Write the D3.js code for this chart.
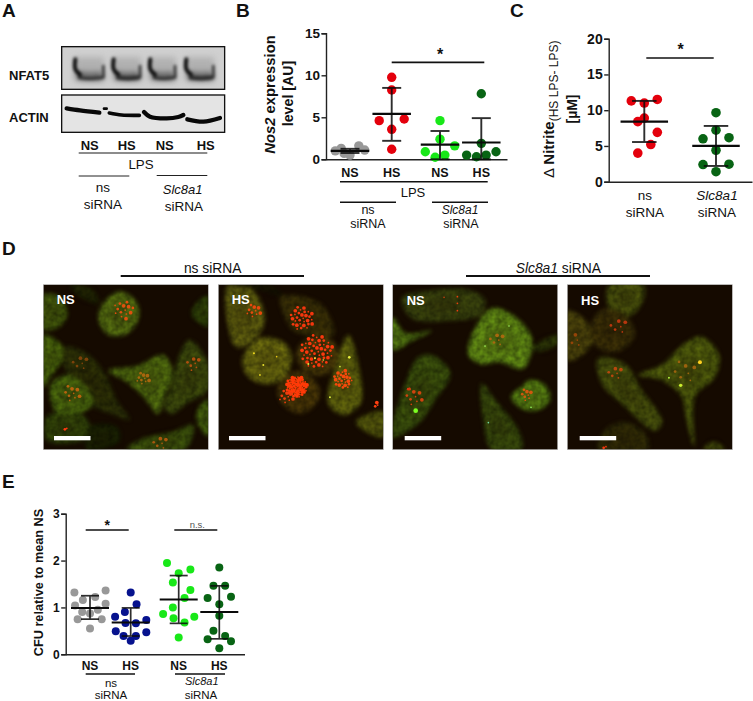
<!DOCTYPE html>
<html><head><meta charset="utf-8">
<script src="https://cdn.jsdelivr.net/npm/d3@7/dist/d3.min.js"></script>
<style>
html,body{margin:0;padding:0;background:#fff}
svg{display:block}
text{font-family:"Liberation Sans",Arial,sans-serif;fill:#111}
</style></head><body>
<svg id="fig" width="753" height="701" xmlns="http://www.w3.org/2000/svg"></svg>
<script>
// ---------- DATA ----------
const conditionLabels = ["NS","HS","NS","HS"];
const siRnaLabels = ["ns","Slc8a1"];

// Panel B: Nos2 expression
const nosTicks = [0,5,10,15];
const nosNsNs = [1.3,1.6,1.1,1.0,0.5,0.7];
const nosNsHs = [9.76,8.25,4.6,4.8,3.57,1.2];
const nosSlcNs = [4.6,2.4,1.6,0.9,0.5,0.25];
const nosSlcHs = [7.8,1.9,0.9,0.5,0.5,0.3];
const nosLanes = [[-0.6,0.6,1,-1,0,-0.4],[0,0,-0.85,0.85,0,0],[0,0,1,-1,0.33,-0.33],[0,0,1,-1,0.33,-0.33]];
const nosMean = [1.0,5.4,1.75,2.0];
const nosLow = [0.75,2.2,0,0];
const nosHigh = [1.25,8.5,3.37,4.9];

// Panel C: nitrite
const nitTicks = [0,5,10,15,20];
const nitNs = [11.3,11.5,11.0,8.9,8.4,6.9,5.2,4.0];
const nitSlc = [9.65,7.2,6.0,6.15,4.4,2.4,2.45,1.4];
const nitLanes = [[-1,1,0,0,-0.5,1,0.5,-0.5],[0,0,-1,1,0,-1,1,0]];
const nitMean = [8.4,5.0];
const nitLow = [5.55,2.2];
const nitHigh = [11.3,7.8];

// Panel E: CFU
const cfuTicks = [0,1,2,3];
const cfuNsNs = [1.32,1.36,1.22,1.04,1.08,0.95,0.9,0.87,0.75,0.75,0.55,1.16];
const cfuNsHs = [1.32,1.07,0.8,0.9,0.73,0.67,0.66,0.49,0.47,0.39,0.39,0.29];
const cfuSlcNs = [1.95,1.81,1.73,1.53,1.37,1.2,1.0,0.86,0.8,0.77,0.68,0.36];
const cfuSlcHs = [1.85,1.46,1.46,1.2,1.23,1.07,0.82,0.5,0.39,0.32,0.28,0.13];
const cfuLanes = [
 [-1.2,1.2,0.4,-1.15,1.2,0.6,-0.6,0,-0.95,0.9,0,-0.55],
 [0,0.45,-1.2,-0.45,1.2,-0.4,0.4,-1.15,1.2,-0.55,0.4,0],
 [-0.9,0.9,0,-0.45,0.9,0.45,-0.45,-1.2,1.2,-0.4,0.45,0],
 [0,-0.45,0.45,-0.9,0.9,0,0,-0.45,0.45,-0.9,0.9,0]];
const cfuMean = [0.99,0.68,1.17,0.9];
const cfuLow = [0.75,0.39,0.66,0.33];
const cfuHigh = [1.25,0.99,1.68,1.46];

const colGrey="#989898", colRed="#e4000c", colBright="#18e818", colDark="#086414", colBlue="#06128e";

// ---------- MICROSCOPY CONTENT (zoom-image units) ----------
const micNS1 = [
 {p:[[40,165],[90,170],[112,225],[85,262],[40,268]],c:"#4f6c0e"},
 {p:[[120,134],[190,150],[205,190],[150,170]],c:"#262e05"},
 {p:[[265,155],[315,180],[328,225],[300,275],[245,288],[210,255],[210,205]],c:"#648414"},
 {p:[[535,168],[495,195],[485,225],[510,250],[535,260]],c:"#36500a"},
 {p:[[40,285],[90,310],[105,345],[70,400],[40,440]],c:"#567a0e"},
 {p:[[105,320],[170,340],[225,400],[260,480],[300,540],[240,520],[190,500],[130,430],[100,370]],c:"#333a08"},
 {p:[[235,392],[320,378],[400,345],[428,400],[400,480],[385,522],[340,470],[290,425]],c:"#5f8212"},
 {p:[[478,300],[535,372],[535,450],[470,490],[425,522],[402,500],[425,440],[440,370]],c:"#46580e"},
 {p:[[110,405],[165,435],[190,490],[140,525],[85,525],[60,470],[65,430]],c:"#567c10"},
 {p:[[50,530],[100,520],[170,535],[175,590],[110,610],[50,600]],c:"#3a520b"},
 {p:[[180,560],[260,560],[270,600],[220,628],[170,628]],c:"#1d2804"},
 {p:[[290,628],[340,595],[430,575],[490,555],[465,628]],c:"#46620e"},
 {p:[[535,478],[505,505],[500,540],[535,590]],c:"#517610"}
];
const micNS1Dots = [[280,210,30,14,"#e0500e"],[125,460,26,9,"#b8620e"],[340,415,20,10,"#a8660e"],[490,370,22,7,"#b04e0e"],[108,565,5,2,"#ff3a10"],[150,370,24,6,"#7c420a"],[390,610,22,6,"#a8580e"]];

const micHS1 = [
 {p:[[595,134],[660,140],[705,230],[682,290],[620,322],[595,260]],c:"#6f7012"},
 {p:[[752,170],[870,190],[912,285],[840,285],[790,272],[760,220]],c:"#443a08"},
 {p:[[710,292],[770,315],[785,365],[755,420],[705,432],[655,410],[637,360],[665,310]],c:"#7d7e12"},
 {p:[[865,283],[915,310],[930,355],[895,400],[850,405],[805,370],[805,320]],c:"#54430a"},
 {p:[[805,392],[855,420],[870,470],[820,520],[770,505],[742,460],[760,415]],c:"#544009"},
 {p:[[955,285],[990,400],[992,490],[940,525],[895,490],[920,370]],c:"#727810"},
 {p:[[978,545],[1060,515],[1060,590],[1020,582]],c:"#656c0f"},
 {p:[[595,134],[720,134],[760,170],[690,150]],c:"#1a1802"}
];
const micHS1Dots = [[672,212,22,10,"#e8480c"],[815,235,36,30,"#f4360e"],[860,335,50,50,"#fa380e"],[800,440,32,70,"#ff3a08"],[770,470,22,10,"#f03c0e"],[940,418,28,26,"#f44a0c"],[1040,495,8,3,"#ff4010"]];
const micHS1Bright = [[672,340,3,"#f0d820"],[700,375,3,"#e8e030"],[690,405,3,"#d8c820"],[740,350,2.5,"#e8c818"],[855,355,3,"#f0e040"],[835,372,3,"#e8e840"],[880,360,2.5,"#f0e040"],[958,352,4,"#e8f040"],[930,380,2.5,"#d8e840"],[900,472,3,"#e0f040"]];

const micNS2 = [
 {p:[[50,175],[150,150],[250,150],[300,180],[285,225],[180,243],[80,235]],c:"#445210"},
 {p:[[23,232],[62,280],[140,272],[85,300],[23,330]],c:"#649416"},
 {p:[[322,205],[382,225],[440,295],[415,385],[340,365],[290,372],[250,345],[272,260]],c:"#72a618"},
 {p:[[440,325],[520,285],[520,310],[462,335]],c:"#36450a"},
 {p:[[435,420],[480,435],[495,480],[460,510],[415,508],[378,470],[410,440]],c:"#689c16"},
 {p:[[140,345],[196,400],[150,480],[100,550],[23,592],[23,555],[65,420],[100,352]],c:"#44600e"},
 {p:[[290,430],[330,480],[400,570],[410,628],[320,628],[295,540]],c:"#425a0e"}
];
const micNS2Dots = [[215,170,3,1,"#e8400e"],[215,190,3,1,"#e8400e"],[215,212,3,1,"#e8400e"],[175,172,3,1,"#b8400e"],[425,465,18,8,"#d0580e"],[85,470,28,9,"#d0440e"],[72,445,4,2,"#d8360e"],[335,300,22,6,"#aa680f"]];
const micNS2Bright = [[92,512,7,"#7cff22"],[372,258,2.5,"#a0f060"],[300,318,2.5,"#a0f060"],[438,502,2.5,"#90f060"],[310,548,2.5,"#70d8a0"]];

const micHS2 = [
 {p:[[675,134],[775,134],[775,180],[740,225],[690,225],[665,180]],c:"#55610e"},
 {p:[[547,212],[600,240],[625,300],[585,350],[547,362]],c:"#5a530e"},
 {p:[[650,210],[720,225],[750,285],[700,335],[640,325],[615,270]],c:"#443809"},
 {p:[[640,355],[720,372],[770,450],[832,545],[810,572],[720,500],[650,430]],c:"#53600e"},
 {p:[[950,290],[1002,345],[990,410],[930,470],[928,620],[905,540],[890,470],[830,420],[760,405],[830,375],[900,310]],c:"#5d6e0e"},
 {p:[[660,570],[720,545],[780,580],[790,628],[640,628]],c:"#383408"},
 {p:[[955,628],[985,605],[1020,628]],c:"#54600e"}
];
const micHS2Dots = [[700,260,26,6,"#b8360e"],[690,400,22,6,"#b8480e"],[660,620,6,2,"#f8360e"],[570,300,20,4,"#964408"],[900,400,40,8,"#9c620e"]];
const micHS2Bright = [[945,367,6,"#ffd020"],[887,436,5,"#c8f030"],[852,413,3,"#b0f040"]];

// ---------- DRAW ----------
const svg = d3.select("#fig");
const defs = svg.append("defs");
[["b1",1.8],["b2",4],["b3",9],["bdot",2],["bspot",1.4],["bdark",14]].forEach(([id,s])=>{
  defs.append("filter").attr("id",id).attr("x","-30%").attr("y","-30%").attr("width","160%").attr("height","160%")
   .attr("color-interpolation-filters","sRGB")
   .append("feGaussianBlur").attr("stdDeviation",s);
});
// soft cell edge plus a mottled texture from turbulence
const cellF=defs.append("filter").attr("id","cellTex").attr("x","-20%").attr("y","-20%").attr("width","140%").attr("height","140%").attr("color-interpolation-filters","sRGB");
cellF.append("feGaussianBlur").attr("in","SourceGraphic").attr("stdDeviation",6).attr("result","soft");
cellF.append("feTurbulence").attr("type","fractalNoise").attr("baseFrequency",0.06).attr("numOctaves",2).attr("seed",4).attr("result","n");
cellF.append("feColorMatrix").attr("in","n").attr("type","matrix").attr("values","0.7 0 0 0 0.3  0.7 0 0 0 0.3  0.7 0 0 0 0.3  0 0 0 0 1").attr("result","g");
cellF.append("feComposite").attr("in","soft").attr("in2","g").attr("operator","arithmetic").attr("k1",0.95).attr("k2",0.2);

function label(g,x,y,txt,o={}){
  const t=g.append("text").attr("x",x).attr("y",y).text(txt)
    .attr("text-anchor",o.anchor||"middle").attr("font-size",o.size||13)
    .attr("font-weight",o.bold?"bold":"normal").attr("font-style",o.italic?"italic":"normal");
  if(o.fill) t.style("fill",o.fill);
  return t;
}
function rule(g,x1,x2,y,w=1.3,c="#111"){
  g.append("line").attr("x1",x1).attr("x2",x2).attr("y1",y).attr("y2",y).attr("stroke",c).attr("stroke-width",w);
}
[["A",2,17],["B",236,17],["C",510,17],["D",2,255],["E",2,488]].forEach(([t,x,y])=>label(svg,x,y,t,{anchor:"start",size:19,bold:true}));

// ----- Panel A (blots)
const blotG = svg.append("g").attr("transform","scale(0.3333)");
const blotLine = d3.line().curve(d3.curveCatmullRom);
blotG.append("rect").attr("x",185).attr("y",140).attr("width",489).attr("height",128).attr("fill","#d0d0d0");
blotG.append("rect").attr("x",185).attr("y",285).attr("width",489).attr("height",112).attr("fill","#e4e4e4");
const nfatLanes=[[220,315],[335,425],[445,530],[553,645]];
const smearG=blotG.append("g").attr("filter","url(#b3)");
const bandG=blotG.append("g").attr("filter","url(#b2)");
nfatLanes.forEach(([a,b],i)=>{
  smearG.append("rect").attr("x",a+4).attr("y",172).attr("width",b-a-6).attr("height",70).attr("fill","#b0b0b0");
  smearG.append("path").attr("d",blotLine([[a+10,226],[(a+b)/2,230],[b-6,228]])).attr("fill","none").attr("stroke","#565656").attr("stroke-width",22);
  bandG.append("path").attr("d",blotLine([[a+6,178],[a+6,208],[a+20,224]])).attr("fill","none").attr("stroke","#0c0c0c").attr("stroke-width",12).attr("stroke-linecap","round");
  bandG.append("path").attr("d",blotLine([[a+14,232],[(a+b)/2,235],[b-6,232]])).attr("fill","none").attr("stroke","#2a2a2a").attr("stroke-width",i%2?12:8);
  bandG.append("path").attr("d",blotLine([[b-5,198],[b-5,232]])).attr("fill","none").attr("stroke","#333").attr("stroke-width",8).attr("stroke-linecap","round");
});
const actinBands=[
  [[200,325],[240,331],[298,338]],
  [[312,326],[320,326]],
  [[328,339],[365,345],[418,346]],
  [[432,336],[450,350],[500,355],[535,351],[550,345]],
  [[562,358],[610,365],[660,354]]];
const actWidths=[13,8,11,13,13];
const actG=blotG.append("g").attr("filter","url(#b1)");
actinBands.forEach((b,i)=>actG.append("path").attr("d",blotLine(b)).attr("fill","none").attr("stroke","#080808").attr("stroke-width",actWidths[i]).attr("stroke-linecap","round"));
blotG.append("rect").attr("x",185).attr("y",140).attr("width",489).attr("height",128).attr("fill","none").attr("stroke","#111").attr("stroke-width",4);
blotG.append("rect").attr("x",185).attr("y",285).attr("width",489).attr("height",112).attr("fill","none").attr("stroke","#111").attr("stroke-width",4);
label(svg,9,79.5,"NFAT5",{anchor:"start",bold:true});
label(svg,9,122,"ACTIN",{anchor:"start",bold:true});
[89.7,126.7,164.7,205.7].forEach((x,i)=>label(svg,x,150,conditionLabels[i],{bold:true}));
rule(svg,78.7,207.3,153,1.4,"#666");
label(svg,141,169,"LPS",{size:13.3});
rule(svg,78.7,129.3,176,1,"#222"); rule(svg,156.7,207.3,175.5,1,"#222");
label(svg,103,192,siRnaLabels[0],{size:13.5}); label(svg,103,209,"siRNA",{size:13.5});
label(svg,182.7,194.3,siRnaLabels[1],{size:13,italic:true}); label(svg,184,211,"siRNA",{size:13.5});

// ----- Scatter helper
function scatter(o){
  const g=svg.append("g");
  const y=d3.scaleLinear().domain(o.domain).range(o.yRange);
  const x=d3.scaleOrdinal(o.groups.map((d,i)=>i),o.centers);
  const yAxis=d3.axisLeft(y).tickValues(o.ticks).tickSize(o.tick||4.5).tickPadding(1.5).tickFormat(d3.format("d"));
  const ag=g.append("g").attr("transform",`translate(${o.axisX},0)`).call(yAxis);
  ag.selectAll("text").attr("font-size",o.tickSize).attr("font-weight","bold");
  ag.selectAll("line,path").attr("stroke","#222").attr("stroke-width",1.4);
  const xAxis=d3.axisBottom(d3.scaleLinear().domain([0,1]).range([o.axisX,o.axisEnd])).tickValues([]).tickSize(0);
  g.append("g").attr("transform",`translate(0,${o.yRange[0]})`).call(xAxis).selectAll("path").attr("stroke","#222").attr("stroke-width",1.4);
  o.groups.forEach((vals,i)=>{
    const cx=x(i);
    g.append("g").selectAll("circle").data(vals).join("circle")
      .attr("cx",(d,k)=>cx+o.lanes[i][k]*o.laneW).attr("cy",d=>y(d)).attr("r",o.r)
      .attr("fill",o.colors[i]);
    const w=g.append("g").attr("opacity",0.85);
    const s=(x1,x2,y1,y2)=>w.append("line").attr("x1",x1).attr("x2",x2).attr("y1",y1).attr("y2",y2).attr("stroke","#0a0a0a").attr("stroke-width",o.lw);
    s(cx,cx,y(o.low[i]),y(o.high[i]));
    s(cx-o.capW/2,cx+o.capW/2,y(o.low[i]),y(o.low[i]));
    s(cx-o.capW/2,cx+o.capW/2,y(o.high[i]),y(o.high[i]));
    g.append("line").attr("x1",cx-o.meanW/2).attr("x2",cx+o.meanW/2).attr("y1",y(o.mean[i])).attr("y2",y(o.mean[i])).attr("stroke","#0a0a0a").attr("stroke-width",o.lw+0.3);
  });
  return g;
}

// ----- Panel B
scatter({groups:[nosNsNs,nosNsHs,nosSlcNs,nosSlcHs],lanes:nosLanes,colors:[colGrey,colRed,colBright,colDark],
 mean:nosMean,low:nosLow,high:nosHigh,domain:[0,15],yRange:[159.3,33.3],ticks:nosTicks,centers:[350,391.7,440,481.3],
 axisX:326,axisEnd:507,tickSize:13.5,lw:1.9,r:4.7,laneW:14.7,capW:19,meanW:38.5});
const yb=svg.append("text").attr("transform","translate(274.5,94.5) rotate(-90)").attr("text-anchor","middle").attr("font-size",14.8).attr("font-weight","bold");
yb.append("tspan").attr("font-style","italic").text("Nos2");
yb.append("tspan").text(" expression");
svg.append("text").attr("transform","translate(293,93.5) rotate(-90)").attr("text-anchor","middle").attr("font-size",14.2).attr("font-weight","bold").text("level [AU]");
[350,391.7,440,481.3].forEach((x,i)=>label(svg,x,176.8,conditionLabels[i],{bold:true,size:12.5}));
rule(svg,340,487.7,181.7,1.6);
label(svg,413,196.7,"LPS",{size:13});
rule(svg,340,396,202.3,1.6); rule(svg,432,488,202.3,1.6);
label(svg,368,214,siRnaLabels[0],{size:12.5}); label(svg,368,228.3,"siRNA",{size:12.5});
label(svg,460,214,siRnaLabels[1],{size:12,italic:true}); label(svg,461,228.3,"siRNA",{size:12.5});
rule(svg,391.7,484.3,62.3,1.8);
label(svg,440,60,"*",{size:16,bold:true});

// ----- Panel C
scatter({groups:[nitNs,nitSlc],lanes:nitLanes,colors:[colRed,colDark],
 mean:nitMean,low:nitLow,high:nitHigh,domain:[0,20],yRange:[181.7,38.7],ticks:nitTicks,centers:[644.3,716],
 axisX:608.7,axisEnd:752,tickSize:14,lw:1.9,r:4.8,laneW:13,capW:24.5,meanW:47.5});
const yc=svg.append("text").attr("transform","translate(554,178) rotate(-90)").attr("text-anchor","start").attr("font-size",15).attr("font-weight","bold");
yc.append("tspan").attr("font-weight","normal").text("Δ ");
yc.append("tspan").text("Nitrite");
yc.append("tspan").attr("dy",4).attr("font-size",12).attr("font-weight","normal").text("(HS LPS- LPS)");
svg.append("text").attr("transform","translate(576.7,109) rotate(-90)").attr("text-anchor","middle").attr("font-size",14).attr("font-weight","bold").text("[µM]");
label(svg,645,200.3,siRnaLabels[0],{size:13.5}); label(svg,645,216.7,"siRNA",{size:13.5});
label(svg,717,200.3,siRnaLabels[1],{size:13.5,italic:true}); label(svg,717,216.7,"siRNA",{size:13.5});
rule(svg,646.3,713.7,58,1.7);
label(svg,680.5,55,"*",{size:16,bold:true});

// ----- Panel D
const panels=[
 {x:43.3,ox:40,oy:134,cells:micNS1,dots:micNS1Dots,bright:[],tag:"NS",tx:56.7,ty:304.3,bar:54},
 {x:218.3,ox:565,oy:134,cells:micHS1,dots:micHS1Dots,bright:micHS1Bright,tag:"HS",tx:231.7,ty:304.3,bar:229},
 {x:392.7,ox:23,oy:134,cells:micNS2,dots:micNS2Dots,bright:micNS2Bright,tag:"NS",tx:406.7,ty:305.3,bar:404.7},
 {x:567.3,ox:547,oy:134,cells:micHS2,dots:micHS2Dots,bright:micHS2Bright,tag:"HS",tx:581,ty:305.3,bar:579.7}];
const blob=d3.line().curve(d3.curveCatmullRomClosed.alpha(0.5));
panels.forEach((p,pi)=>{
  const g=svg.append("g").attr("transform",`translate(${p.x},284.7)`);
  defs.append("clipPath").attr("id","mc"+pi).append("rect").attr("width",165).attr("height",165);
  g.append("rect").attr("width",165).attr("height",165).attr("fill","#150a00");
  const inner=g.append("g").attr("clip-path",`url(#mc${pi})`).append("g").attr("transform",`scale(0.3333) translate(${-p.ox},${-p.oy})`);
  const cellG=inner.append("g").attr("filter","url(#cellTex)").attr("opacity",0.85);
  cellG.selectAll("path.cell").data(p.cells).join("path").attr("class","cell")
    .attr("d",d=>blob(d.p)).attr("fill",d=>d.c);
  // darker nucleus region inside each cell
  inner.append("g").attr("filter","url(#bdark)").selectAll("path").data(p.cells).join("path")
    .attr("d",d=>{const c=d3.polygonCentroid(d.p);return blob(d.p.map(q=>[c[0]+(q[0]-c[0])*0.42,c[1]+(q[1]-c[1])*0.42]));})
    .attr("fill","#1c1000").attr("fill-opacity",0.25);
  // speckled fluorescence spots: phyllotaxis spread inside each listed cluster
  const sp=inner.append("g").attr("filter","url(#bdot)");
  p.dots.forEach(([cx,cy,s,n,c])=>{
    d3.range(n).forEach(i=>{
      const r=s*Math.sqrt((i+0.5)/n),a=i*2.39996;
      sp.append("circle").attr("cx",cx+r*Math.cos(a)).attr("cy",cy+r*Math.sin(a)).attr("r",2.6+(i%3)*1.5).attr("fill",c);
    });
  });
  p.bright.forEach(([x,y,r,c])=>inner.append("circle").attr("cx",x).attr("cy",y).attr("r",r).attr("fill",c).attr("filter","url(#bspot)"));
  g.append("rect").attr("width",165).attr("height",165).attr("fill","none").attr("stroke","#bbb").attr("stroke-width",0.6);
  label(svg,p.tx,p.ty,p.tag,{anchor:"start",bold:true,size:13,fill:"#fff"});
  svg.append("rect").attr("x",p.bar).attr("y",436).attr("width",36.5).attr("height",4.3).attr("fill","#fff");
});
label(svg,212.7,273.3,"ns siRNA",{size:13.8});
rule(svg,120.7,304,276,1.8);
const tslc=svg.append("text").attr("x",558.3).attr("y",273.3).attr("text-anchor","middle").attr("font-size",13.8);
tslc.append("tspan").attr("font-style","italic").text("Slc8a1");
tslc.append("tspan").text(" siRNA");
rule(svg,466,650,276,1.8);

// ----- Panel E
scatter({groups:[cfuNsNs,cfuNsHs,cfuSlcNs,cfuSlcHs],lanes:cfuLanes,colors:[colGrey,colBlue,colBright,colDark],
 mean:cfuMean,low:cfuLow,high:cfuHigh,domain:[0,3],yRange:[654.3,513.7],ticks:cfuTicks,centers:[90,130.7,178.7,219.3],
 axisX:65.7,axisEnd:244.5,tickSize:12,lw:1.7,r:4,laneW:13,capW:18,meanW:38});
svg.append("text").attr("transform","translate(43.3,582.5) rotate(-90)").attr("text-anchor","middle").attr("font-size",12.7).attr("font-weight","bold").text("CFU relative to mean NS");
[90,130.7,178.7,219.3].forEach((x,i)=>label(svg,x,670,conditionLabels[i],{bold:true,size:12}));
rule(svg,85.7,135,674,1.5); rule(svg,175,225,674,1.5);
label(svg,111,686.7,siRnaLabels[0],{size:11.5}); label(svg,111,699.3,"siRNA",{size:11.5});
label(svg,201.7,685,siRnaLabels[1],{size:11,italic:true}); label(svg,201,699.3,"siRNA",{size:11.5});
rule(svg,85.7,128.7,530,1.6);
label(svg,107.3,530,"*",{size:14,bold:true});
rule(svg,174.3,217.3,530,1.6);
label(svg,197.3,527.5,"n.s.",{size:9.5,fill:"#555"});
</script>
</body></html>
